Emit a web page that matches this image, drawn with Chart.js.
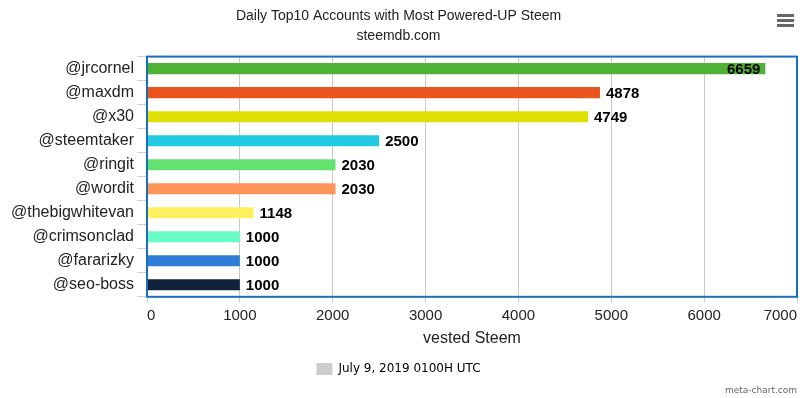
<!DOCTYPE html>
<html>
<head>
<meta charset="utf-8">
<script src="https://cdn.jsdelivr.net/npm/chart.js@4.4.0/dist/chart.umd.min.js"></script>
<style>
  html, body { margin: 0; padding: 0; background: #fff; }
  #wrap { width: 806px; height: 398px; }
</style>
</head>
<body>
<div id="wrap"><canvas id="steem-chart"></canvas></div>
<script>
const accounts = ["@jrcornel", "@maxdm", "@x30", "@steemtaker", "@ringit", "@wordit",
  "@thebigwhitevan", "@crimsonclad", "@fararizky", "@seo-boss"];
const vestedSteem = [6659, 4878, 4749, 2500, 2030, 2030, 1148, 1000, 1000, 1000];
const barColors = ["#4fb234", "#ea5520", "#dde000", "#22cbe3", "#62e26f", "#ff945a",
  "#fff05f", "#68fbc3", "#2e7dd7", "#0f2239"];
const xTicks = [0, 1000, 2000, 3000, 4000, 5000, 6000, 7000];
const legendLabel = "July 9, 2019 0100H UTC";

Chart.defaults.font.family = "'Liberation Sans', Arial, sans-serif";
Chart.defaults.color = "#222";

// blue frame round the plot area
const plotBorder = {
  id: "plotBorder",
  afterDatasetsDraw(chart) {
    const { ctx, chartArea: a } = chart;
    ctx.save();
    ctx.strokeStyle = "#1a6dc0";
    ctx.lineWidth = 2;
    ctx.strokeRect(a.left, a.top, a.right - a.left, a.bottom - a.top);
    ctx.restore();
  }
};

// value next to each bar, pulled inside when it would overflow
const valueLabels = {
  id: "valueLabels",
  afterDatasetsDraw(chart) {
    const { ctx, chartArea } = chart;
    const meta = chart.getDatasetMeta(0);
    ctx.save();
    ctx.font = "bold 15px 'Liberation Sans', Arial, sans-serif";
    ctx.fillStyle = "#000";
    ctx.textBaseline = "middle";
    meta.data.forEach((bar, i) => {
      const text = String(vestedSteem[i]);
      const w = ctx.measureText(text).width;
      if (bar.x + 6 + w > chartArea.right - 2) {
        ctx.textAlign = "right";
        ctx.fillText(text, bar.x - 5, bar.y + 1);
      } else {
        ctx.textAlign = "left";
        ctx.fillText(text, bar.x + 6, bar.y + 1);
      }
    });
    ctx.restore();
  }
};

// menu icon and credit line
const extras = {
  id: "extras",
  afterDraw(chart) {
    const { ctx, width, height } = chart;
    ctx.save();
    ctx.fillStyle = "#666";
    [14, 19, 24].forEach((y) => ctx.fillRect(width - 29, y, 17, 3));
    ctx.font = "9px 'DejaVu Sans', sans-serif";
    ctx.fillStyle = "#666";
    ctx.textAlign = "right";
    ctx.textBaseline = "middle";
    ctx.fillText("meta-chart.com", width - 9, height - 7);
    ctx.restore();
  }
};

new Chart(document.getElementById("steem-chart"), {
  type: "bar",
  data: {
    labels: accounts,
    datasets: [{
      label: legendLabel,
      data: vestedSteem,
      backgroundColor: barColors,
      borderWidth: 0,
      barPercentage: 0.46,
      categoryPercentage: 1
    }]
  },
  options: {
    indexAxis: "y",
    responsive: true,
    maintainAspectRatio: false,
    animation: false,
    layout: { padding: { left: 0, right: 9, top: 0, bottom: 13 } },
    scales: {
      x: {
        min: 0,
        max: 7000,
        afterBuildTicks: (scale) => { scale.ticks = xTicks.map((v) => ({ value: v })); },
        ticks: {
          font: { size: 15 },
          color: "#222",
          padding: 4,
          align: "inner",
          callback: (v) => String(v)
        },
        grid: { color: "#c8c8c8", tickColor: "#c0d0e4", tickLength: 6 },
        border: { display: false },
        title: {
          display: true,
          text: "vested Steem",
          font: { size: 16 },
          color: "#222",
          padding: { top: 0, bottom: 5 }
        }
      },
      y: {
        afterFit: (scale) => { scale.width = 147; },
        ticks: { font: { size: 16 }, color: "#222", padding: 3 },
        grid: { drawOnChartArea: false, tickColor: "#c0d0e4", tickLength: 10, offset: true },
        border: { display: false }
      }
    },
    plugins: {
      title: {
        display: true,
        text: "Daily Top10 Accounts with Most Powered-UP Steem",
        font: { size: 14, weight: "normal" },
        color: "#222",
        padding: { top: 8, bottom: 3 }
      },
      subtitle: {
        display: true,
        text: "steemdb.com",
        font: { size: 14 },
        color: "#222",
        padding: { top: 0, bottom: 12 }
      },
      legend: {
        position: "bottom",
        onClick: null,
        labels: {
          boxWidth: 16,
          boxHeight: 12,
          color: "#333",
          font: { family: "'DejaVu Sans', sans-serif", size: 12 },
          generateLabels: () => [{
            text: legendLabel,
            fillStyle: "#cccccc",
            strokeStyle: "#cccccc",
            lineWidth: 0,
            hidden: false,
            datasetIndex: 0
          }]
        }
      },
      tooltip: { enabled: false }
    }
  },
  plugins: [plotBorder, valueLabels, extras]
});
</script>
</body>
</html>
